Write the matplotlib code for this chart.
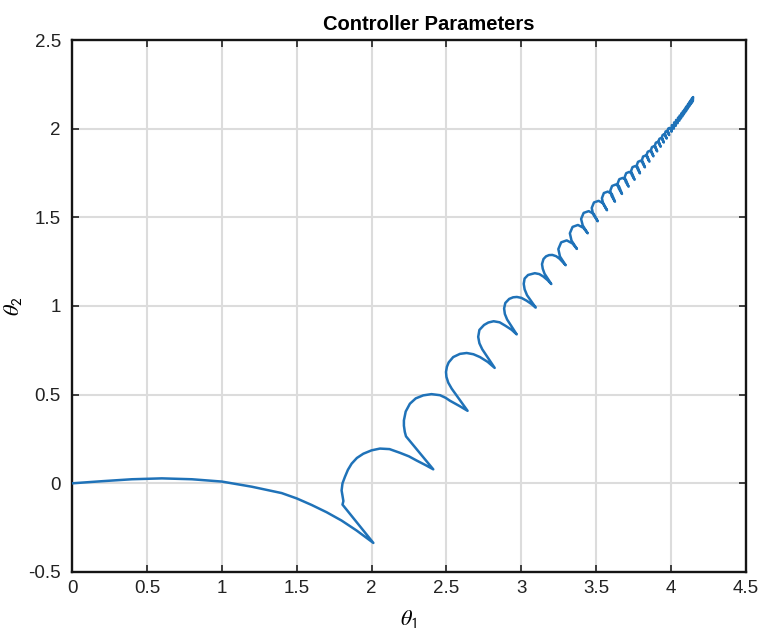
import numpy as np
import matplotlib
matplotlib.use('Agg')
from matplotlib import pyplot as plt

# controller parameter trajectory
# first sweep from the origin down to the first cusp
sweep_t1 = [0, 0.2, 0.4, 0.6, 0.8, 1.0, 1.2, 1.4, 1.5, 1.6, 1.7, 1.8, 1.9, 2.012]
sweep_t2 = [0, 0.012, 0.023, 0.028, 0.023, 0.010, -0.019, -0.055, -0.085, -0.122, -0.163, -0.21, -0.266, -0.336]

# big loops (cusp -> kink -> arc -> next cusp)
loops_t1 = [1.806, 1.812, 1.800, 1.806, 1.822, 1.842, 1.867, 1.902, 1.945, 2.0, 2.056, 2.12, 2.19, 2.25, 2.30, 2.36, 2.412,
            2.23, 2.222, 2.216, 2.216, 2.228, 2.256, 2.295, 2.345, 2.40, 2.457, 2.495, 2.523, 2.585, 2.641,
            2.535, 2.512, 2.500, 2.497, 2.503, 2.515, 2.545, 2.59, 2.635, 2.68, 2.724, 2.775, 2.822,
            2.739, 2.720, 2.712, 2.72, 2.751, 2.78, 2.815, 2.855, 2.893, 2.935, 2.969,
            2.905, 2.890, 2.885, 2.893, 2.919, 2.945, 2.97, 3.0, 3.035, 3.066, 3.096,
            3.038, 3.022, 3.016, 3.022, 3.045, 3.09, 3.12, 3.147, 3.175, 3.200,
            3.155, 3.143, 3.138, 3.148, 3.165, 3.185, 3.207, 3.232, 3.256, 3.296]
loops_t2 = [-0.12, -0.10, -0.04, 0.0, 0.036, 0.076, 0.111, 0.143, 0.167, 0.186, 0.196, 0.193, 0.172, 0.152, 0.129, 0.103, 0.079,
            0.265, 0.29, 0.325, 0.355, 0.405, 0.449, 0.479, 0.496, 0.503, 0.497, 0.482, 0.466, 0.437, 0.409,
            0.534, 0.568, 0.6, 0.628, 0.657, 0.682, 0.712, 0.73, 0.735, 0.728, 0.712, 0.685, 0.651,
            0.756, 0.79, 0.826, 0.865, 0.893, 0.907, 0.914, 0.908, 0.889, 0.866, 0.840,
            0.924, 0.955, 0.986, 1.017, 1.04, 1.049, 1.051, 1.046, 1.030, 1.012, 0.991,
            1.061, 1.094, 1.125, 1.155, 1.175, 1.185, 1.18, 1.166, 1.146, 1.124,
            1.182, 1.21, 1.236, 1.265, 1.28, 1.287, 1.288, 1.281, 1.266, 1.230]

# smaller coils further up
coil_t1 = [3.258, 3.247, 3.266, 3.303, 3.341, 3.371,
           3.335, 3.324, 3.342, 3.378, 3.414, 3.443,
           3.410, 3.399, 3.416, 3.450, 3.483, 3.510,
           3.479, 3.470, 3.485, 3.516, 3.547, 3.572,
           3.546, 3.538, 3.551, 3.577, 3.604, 3.625,
           3.602, 3.594, 3.606, 3.630, 3.653, 3.672,
           3.650, 3.643, 3.654, 3.676, 3.698, 3.716,
           3.696, 3.690, 3.700, 3.720, 3.740, 3.756,
           3.738, 3.733, 3.742, 3.760, 3.778, 3.792,
           3.776, 3.771, 3.779, 3.795, 3.812, 3.825,
           3.810, 3.806, 3.813, 3.828, 3.843, 3.855,
           3.842, 3.837, 3.844, 3.858, 3.871, 3.882,
           3.870, 3.866, 3.872, 3.885, 3.897, 3.907,
           3.896, 3.892, 3.898, 3.909, 3.921, 3.930,
           3.920, 3.916, 3.922, 3.932, 3.943, 3.951,
           3.942, 3.939, 3.943, 3.953, 3.962, 3.970,
           3.962, 3.959, 3.963, 3.972, 3.980, 3.987,
           3.979, 3.977, 3.981, 3.989, 3.997, 4.003]
coil_t2 = [1.279, 1.321, 1.359, 1.370, 1.353, 1.322,
           1.369, 1.410, 1.446, 1.457, 1.441, 1.410,
           1.454, 1.491, 1.525, 1.535, 1.520, 1.478,
           1.518, 1.553, 1.584, 1.593, 1.579, 1.540,
           1.577, 1.608, 1.637, 1.645, 1.632, 1.588,
           1.622, 1.651, 1.677, 1.685, 1.673, 1.632,
           1.664, 1.691, 1.715, 1.722, 1.711, 1.673,
           1.702, 1.727, 1.749, 1.756, 1.746, 1.712,
           1.739, 1.762, 1.783, 1.789, 1.780, 1.748,
           1.773, 1.794, 1.813, 1.819, 1.810, 1.782,
           1.805, 1.825, 1.843, 1.848, 1.840, 1.814,
           1.835, 1.854, 1.870, 1.875, 1.868, 1.844,
           1.864, 1.881, 1.896, 1.901, 1.894, 1.872,
           1.891, 1.906, 1.921, 1.925, 1.919, 1.898,
           1.915, 1.930, 1.943, 1.947, 1.941, 1.922,
           1.938, 1.952, 1.964, 1.968, 1.962, 1.944,
           1.959, 1.972, 1.984, 1.987, 1.982, 1.964,
           1.978, 1.990, 2.001, 2.004, 2.000, 1.983]

# tight tail where the coils merge into a thick band
tail_t1 = [4.005, 4.018, 4.020, 4.031, 4.033, 4.044, 4.046, 4.055, 4.057, 4.066,
           4.068, 4.076, 4.078, 4.085, 4.087, 4.094, 4.096, 4.102, 4.104, 4.110,
           4.112, 4.117, 4.119, 4.124, 4.126, 4.130, 4.132, 4.136, 4.138, 4.141,
           4.143, 4.145, 4.147]
tail_t2 = [2.020, 2.000, 2.035, 2.016, 2.049, 2.031, 2.062, 2.045, 2.074, 2.058,
           2.086, 2.070, 2.097, 2.081, 2.107, 2.092, 2.118, 2.102, 2.127, 2.112,
           2.137, 2.121, 2.146, 2.129, 2.154, 2.137, 2.162, 2.144, 2.169, 2.150,
           2.175, 2.156, 2.178]

xticks = [0, 0.5, 1, 1.5, 2, 2.5, 3, 3.5, 4, 4.5]
xlabels = ['0', '0.5', '1', '1.5', '2', '2.5', '3', '3.5', '4', '4.5']
yticks = [-0.5, 0, 0.5, 1, 1.5, 2, 2.5]
ylabels = ['-0.5', '0', '0.5', '1', '1.5', '2', '2.5']

plt.rcParams['font.family'] = ['Liberation Sans', 'DejaVu Sans']
plt.rcParams['mathtext.fontset'] = 'stix'

theta1 = np.concatenate([sweep_t1, loops_t1, coil_t1, tail_t1])
theta2 = np.concatenate([sweep_t2, loops_t2, coil_t2, tail_t2])

fig = plt.figure(figsize=(7.66, 6.44), dpi=100)
ax = fig.add_axes([72/766, 1-572/644, 674/766, 532/644])

ax.plot(theta1, theta2, color='#1f72b8', lw=1.8, solid_joinstyle='round',
        solid_capstyle='round', zorder=3)

ax.set_xlim(0, 4.5)
ax.set_ylim(-0.5, 2.5)
ax.set_xticks(xticks)
ax.set_xticklabels(xlabels)
ax.set_yticks(yticks)
ax.set_yticklabels(ylabels)
ax.grid(True, color='#dcdcdc', lw=1.5)
ax.set_axisbelow(True)
ax.tick_params(direction='in', length=5, width=1.2, top=True, right=True,
               labelsize=13.5, colors='#222222')
ax.tick_params(axis='x', pad=6)
ax.tick_params(axis='y', pad=8)
for s in ax.spines.values():
    s.set_linewidth(1.7)
    s.set_color('#151515')

ax.set_title('Controller Parameters', fontsize=14.5, fontweight='bold', x=0.53, pad=7)
ax.set_xlabel(r'$\theta_{\mathsf{1}}$', fontsize=16, labelpad=8)
ax.set_ylabel(r'$\theta_{\mathsf{2}}$', fontsize=16, labelpad=3)

fig.savefig('out.png', dpi=100)
